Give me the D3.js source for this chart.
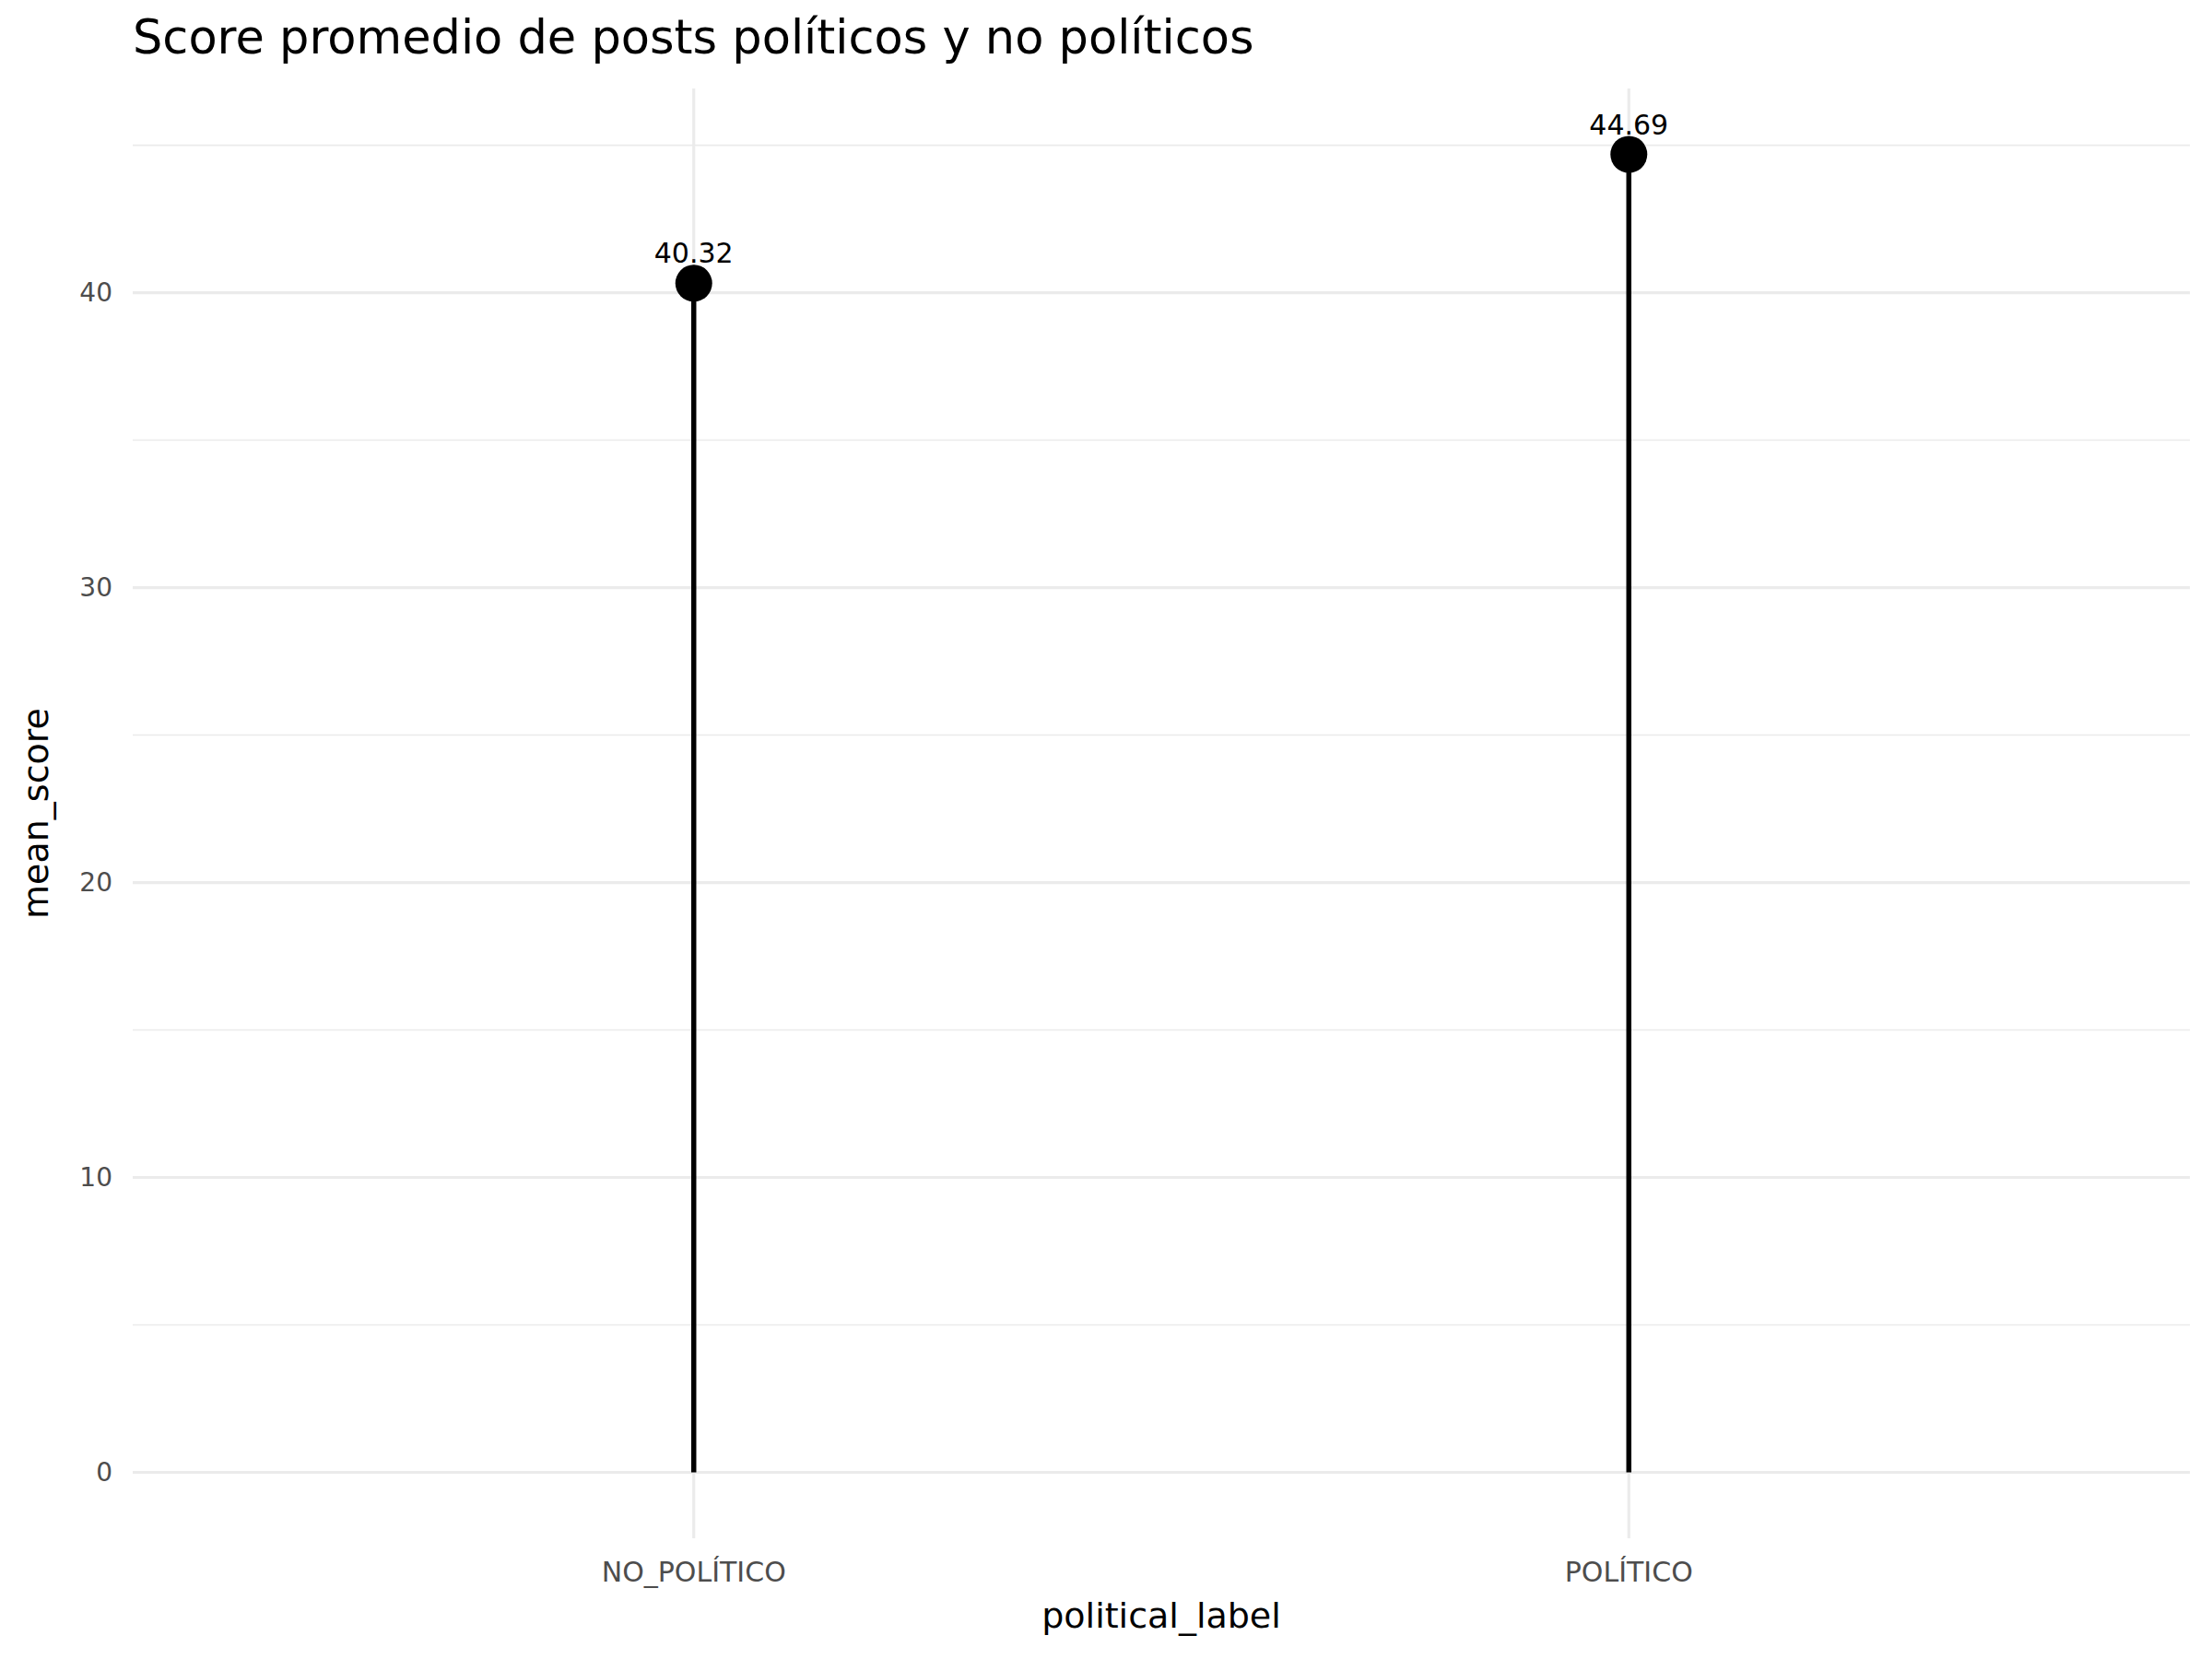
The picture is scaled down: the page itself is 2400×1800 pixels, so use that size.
<!DOCTYPE html>
<html><head><meta charset="utf-8">
<script src="https://cdn.jsdelivr.net/npm/d3@7"></script>
<style>body{margin:0;background:#fff}text{font-family:"DejaVu Sans",sans-serif}</style>
</head><body><svg id="chart" width="2400" height="1800"></svg>
<script>
var categories = ["NO_POLÍTICO", "POLÍTICO"];
var meanScores = [40.32, 44.69];
var yTicks = [0, 10, 20, 30, 40];
var yMinor = [5, 15, 25, 35, 45];

var svg = d3.select("#chart");
var plotLeft = 144, plotRight = 2376, plotTop = 96, plotBottom = 1669;

var x = d3.scaleLinear().domain([0.4, 2.6]).range([plotLeft, plotRight]);
var ymax = d3.max(meanScores);
var y = d3.scaleLinear().domain([-ymax * 0.05, ymax * 1.05]).range([plotBottom, plotTop]);

// grid
svg.selectAll(".minor").data(yMinor).enter().append("line")
    .attr("x1", plotLeft).attr("x2", plotRight)
    .attr("y1", d => y(d)).attr("y2", d => y(d))
    .style("stroke", "#ebebeb").style("stroke-width", 1.6);
svg.selectAll(".major").data(yTicks).enter().append("line")
    .attr("x1", plotLeft).attr("x2", plotRight)
    .attr("y1", d => y(d)).attr("y2", d => y(d))
    .style("stroke", "#ebebeb").style("stroke-width", 3.2);
svg.selectAll(".vgrid").data(categories).enter().append("line")
    .attr("x1", (d, i) => x(i + 1)).attr("x2", (d, i) => x(i + 1))
    .attr("y1", plotTop).attr("y2", plotBottom)
    .style("stroke", "#ebebeb").style("stroke-width", 3.2);

// ticks
svg.selectAll(".ytick").data(yTicks).enter().append("text")
    .attr("x", plotLeft - 22).attr("y", d => y(d)).attr("dy", "0.35em")
    .attr("text-anchor", "end").style("font-size", "28px").style("fill", "#4d4d4d")
    .text(d => d);
svg.selectAll(".xtick").data(categories).enter().append("text")
    .attr("x", (d, i) => x(i + 1)).attr("y", plotBottom + 47)
    .attr("text-anchor", "middle").style("font-size", "30px").style("fill", "#4d4d4d")
    .text(d => d);

// lollipops
svg.selectAll(".stem").data(meanScores).enter().append("line")
    .attr("x1", (d, i) => x(i + 1)).attr("x2", (d, i) => x(i + 1))
    .attr("y1", y(0)).attr("y2", d => y(d))
    .style("stroke", "#000").style("stroke-width", 5.5);
svg.selectAll(".dot").data(meanScores).enter().append("circle")
    .attr("cx", (d, i) => x(i + 1)).attr("cy", d => y(d)).attr("r", 20)
    .style("fill", "#000");
svg.selectAll(".lbl").data(meanScores).enter().append("text")
    .attr("x", (d, i) => x(i + 1)).attr("y", d => y(d) - 22)
    .attr("text-anchor", "middle").style("font-size", "30px").style("fill", "#000")
    .text(d => d.toFixed(2));

// titles
svg.append("text").attr("x", 144).attr("y", 58)
    .style("font-size", "51px").text("Score promedio de posts políticos y no políticos");
svg.append("text").attr("x", (plotLeft + plotRight) / 2).attr("y", 1766)
    .attr("text-anchor", "middle").style("font-size", "38px").text("political_label");
svg.append("text").attr("transform", "translate(52," + ((plotTop + plotBottom) / 2) + ") rotate(-90)")
    .attr("text-anchor", "middle").style("font-size", "38px").text("mean_score");
</script></body></html>
